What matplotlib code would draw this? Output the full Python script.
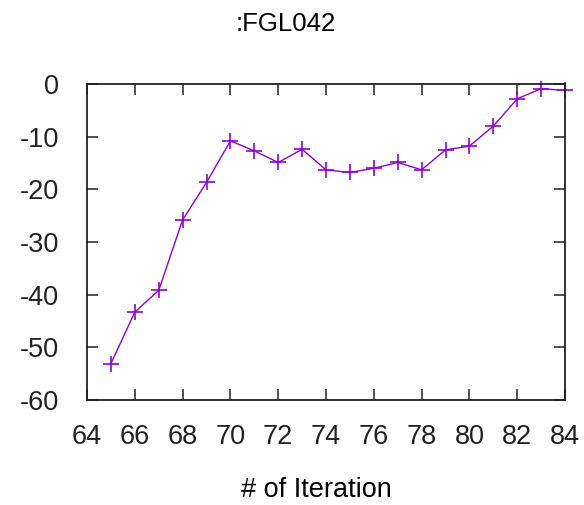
import matplotlib
matplotlib.use('Agg')
from matplotlib import pyplot as plt

iterations = [65, 66, 67, 68, 69, 70, 71, 72, 73, 74, 75, 76, 77, 78, 79, 80, 81, 82, 83, 84]
values = [-53.1, -43.3, -39.2, -25.8, -18.7, -10.8, -12.7, -14.9, -12.4, -16.3,
          -16.8, -16.0, -14.9, -16.3, -12.5, -11.8, -8.0, -2.8, -0.9, -1.2]
x_ticks = list(range(64, 85, 2))
y_ticks = list(range(-60, 1, 10))

plt.rcParams['font.family'] = ['Liberation Sans', 'DejaVu Sans']
plt.rcParams['axes.unicode_minus'] = False

fig = plt.figure(figsize=(5.84, 5.05), dpi=100)
ax = fig.add_axes([87 / 584, 1 - 400 / 505, (565 - 87) / 584, (400 - 84) / 505])

ax.plot(iterations, values, color='#9400D3', linewidth=1.0, marker='+',
        markersize=11, markeredgewidth=1.2, clip_on=False)

ax.set_xlim(64, 84)
ax.set_ylim(-60, 0)
ax.set_xticks(x_ticks)
ax.set_yticks(y_ticks)
ax.tick_params(direction='in', length=8, width=1.1, top=True, right=True,
               labelsize=19.5, colors='#222222')
ax.tick_params(axis='x', pad=17)
ax.tick_params(axis='y', pad=20)
for sp in ax.spines.values():
    sp.set_linewidth(1.3)
    sp.set_color('#222222')

ax.set_xlabel('# of Iteration', fontsize=19.5, va='center')
ax.xaxis.set_label_coords((316 - 87) / 478, (400 - 490) / 316)
fig.text(286 / 584, 1 - 24 / 505, ':FGL042', ha='center', va='center', fontsize=18.5)

plt.savefig('out.png', dpi=100)
plt.close()
